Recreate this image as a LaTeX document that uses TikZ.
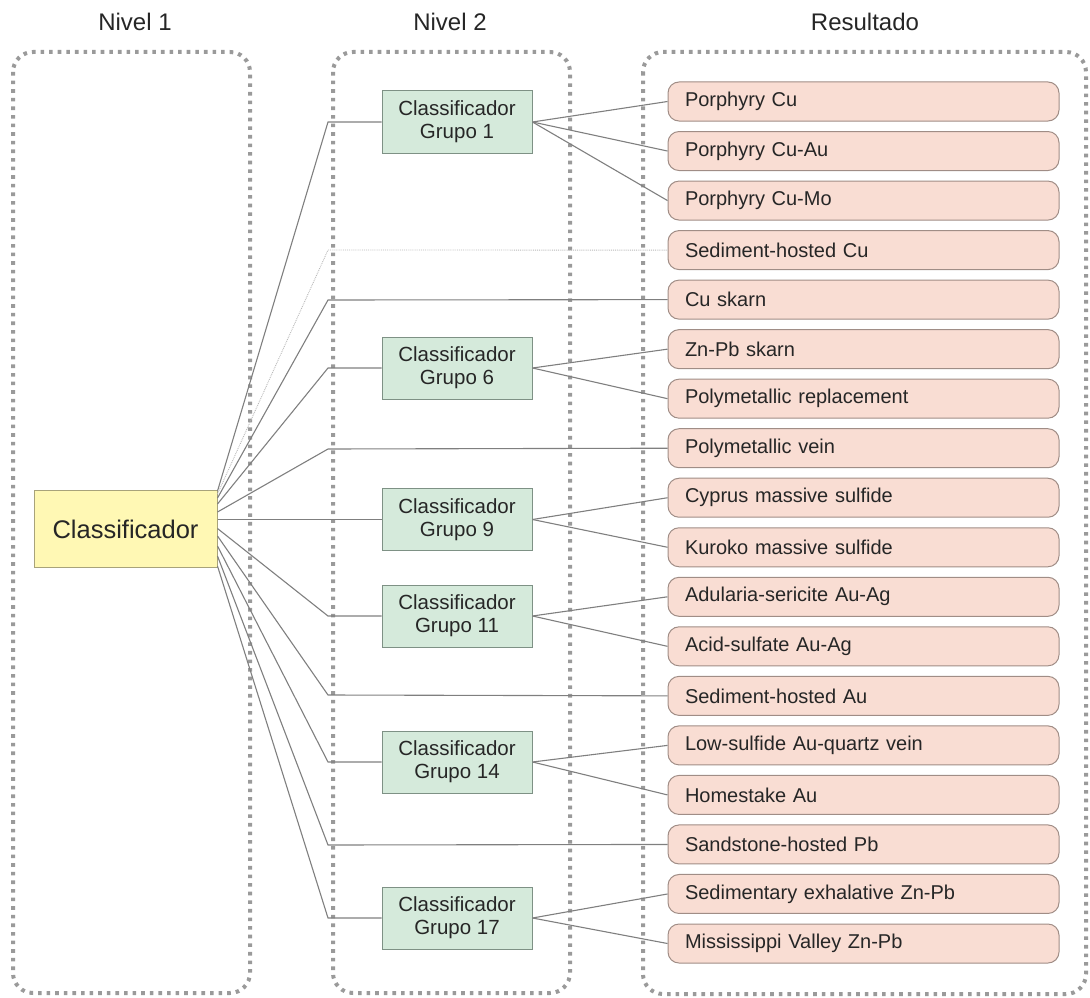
\documentclass[tikz,border=0pt]{standalone}
\usepackage{fontspec}
\setmainfont{Liberation Sans}
\definecolor{linegray}{HTML}{7F7F7F}
\definecolor{dotgray}{HTML}{9A9A9A}
\definecolor{yfill}{HTML}{FFF8B4}
\definecolor{ydraw}{HTML}{A8A37A}
\definecolor{gfill}{HTML}{D5EADB}
\definecolor{gdraw}{HTML}{7E9185}
\definecolor{pfill}{HTML}{F9DDD3}
\definecolor{pdraw}{HTML}{A08D86}
\definecolor{txt}{HTML}{262626}
\begin{document}
\begin{tikzpicture}[x=1pt,y=-1pt,
  colbox/.style={draw=dotgray, line width=4pt, dash pattern=on 3.6pt off 5pt, rounded corners=20pt},
  title/.style={font=\fontsize{24}{28}\selectfont, text=txt},
  clsbox/.style={draw=ydraw, fill=yfill, line width=1pt, minimum width=183pt, minimum height=77pt, font=\fontsize{25.5}{30}\selectfont, text=txt, inner sep=0pt},
  grpbox/.style={draw=gdraw, fill=gfill, line width=1pt, minimum width=150pt, minimum height=62pt, font=\fontsize{20.5}{23}\selectfont, text=txt, align=center, inner sep=0pt},
  resbox/.style={draw=pdraw, fill=pfill, line width=1pt, rounded corners=11pt, minimum height=39pt, text width=357pt, inner xsep=17pt, inner ysep=0pt, align=left, font=\fontsize{20}{24}\selectfont, text=txt},
  conn/.style={draw=linegray, line width=1.1pt},
  faint/.style={draw=gray!55, line width=0.9pt, densely dotted}
]
\useasboundingbox (0,0) rectangle (1090,998);
% column frames
\draw[colbox] (13,52) rectangle (250,993);
\draw[colbox] (333,52) rectangle (570,993);
\draw[colbox] (643,52) rectangle (1086,994);
\node[title] (t1) at (135,22) {Nivel 1};
\node[title] (t2) at (450,22) {Nivel 2};
\node[title] (t3) at (865,22) {Resultado};

% level 1
\node[clsbox] (cls) at (125.5,529) {Classificador};

% level 2
\node[grpbox] (g1) at (457,122) {Classificador\\Grupo 1};
\node[grpbox] (g6) at (457,368) {Classificador\\Grupo 6};
\node[grpbox] (g9) at (457,519.5) {Classificador\\Grupo 9};
\node[grpbox] (g11) at (457,616) {Classificador\\Grupo 11};
\node[grpbox] (g14) at (457,762) {Classificador\\Grupo 14};
\node[grpbox] (g17) at (457,918) {Classificador\\Grupo 17};

% results
\foreach \n/\t [count=\i from 0] in {r1/Porphyry Cu, r2/Porphyry Cu-Au, r3/Porphyry Cu-Mo, r4/Sediment-hosted Cu, r5/Cu skarn, r6/Zn-Pb skarn, r7/Polymetallic replacement, r8/Polymetallic vein, r9/Cyprus massive sulfide, r10/Kuroko massive sulfide, r11/Adularia-sericite Au-Ag, r12/Acid-sulfate Au-Ag, r13/Sediment-hosted Au, r14/Low-sulfide Au-quartz vein, r15/Homestake Au, r16/Sandstone-hosted Pb, r17/Sedimentary exhalative Zn-Pb, r18/Mississippi Valley Zn-Pb}
  \node[resbox] (\n) at (863.5,{101.5+49.53*\i}) {\t};

% junction coordinates
\coordinate (j1) at (328,122);
\coordinate (j4) at (328,250);
\coordinate (j5) at (328,300);
\coordinate (j6) at (328,368);
\coordinate (j8) at (328,449);
\coordinate (j11) at (328,616);
\coordinate (j13) at (328,695);
\coordinate (j14) at (328,762);
\coordinate (j16) at (328,845);
\coordinate (j17) at (328,918);

% level-1 connectors
\draw[conn] ([yshift=38pt]cls.east) -- (j1) -- (g1.west);
\draw[faint] ([yshift=35pt]cls.east) -- (j4) -- (r4.west);
\draw[conn] ([yshift=31pt]cls.east) -- (j5) -- (r5.west);
\draw[conn] ([yshift=25pt]cls.east) -- (j6) -- (g6.west);
\draw[conn] ([yshift=17pt]cls.east) -- (j8) -- (r8.west);
\draw[conn] ([yshift=9.5pt]cls.east) -- (g9.west);
\draw[conn] ([yshift=0.5pt]cls.east) -- (j11) -- (g11.west);
\draw[conn] ([yshift=-7pt]cls.east) -- (j13) -- (r13.west);
\draw[conn] ([yshift=-17pt]cls.east) -- (j14) -- (g14.west);
\draw[conn] ([yshift=-27pt]cls.east) -- (j16) -- (r16.west);
\draw[conn] ([yshift=-37pt]cls.east) -- (j17) -- (g17.west);

% level-2 connectors
\foreach \g/\r in {g1/r1, g1/r2, g1/r3, g6/r6, g6/r7, g9/r9, g9/r10, g11/r11, g11/r12, g14/r14, g14/r15, g17/r17, g17/r18}
  \draw[conn] (\g.east) -- (\r.west);
\end{tikzpicture}
\end{document}
